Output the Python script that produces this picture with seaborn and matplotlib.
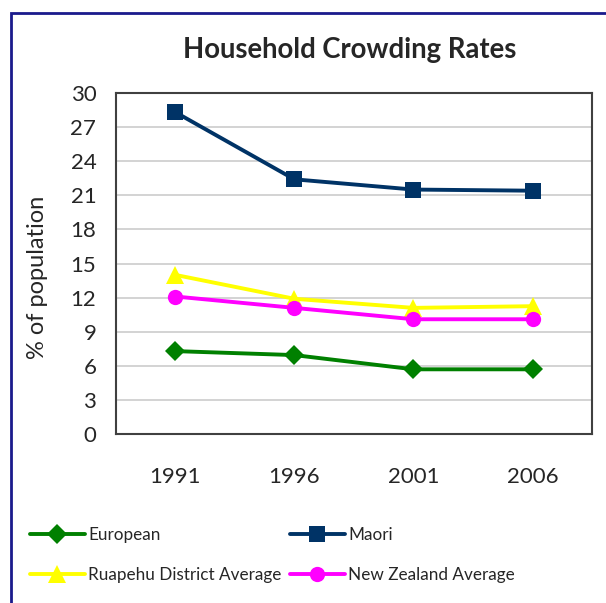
import matplotlib
matplotlib.use("Agg")
import matplotlib.pyplot as plt
from matplotlib.patches import Rectangle
import seaborn as sns
import pandas as pd

years = ["1991", "1996", "2001", "2006"]
european = [7.3, 6.95, 5.7, 5.7]
maori = [28.3, 22.4, 21.5, 21.4]
ruapehu = [14.0, 11.9, 11.1, 11.25]
nz_avg = [12.1, 11.1, 10.1, 10.1]
series_names = ["European", "Maori", "Ruapehu District Average", "New Zealand Average"]
y_ticks = [0, 3, 6, 9, 12, 15, 18, 21, 24, 27, 30]

sns.set_theme(style="white")
plt.rcParams['font.family'] = ['Lato', 'DejaVu Sans']

rows = []
for name, vals in zip(series_names, [european, maori, ruapehu, nz_avg]):
    for yr, v in zip(years, vals):
        rows.append({"Year": yr, "Value": v, "Series": name})
df = pd.DataFrame(rows)

colors = {"European": "#008000", "Maori": "#003366",
          "Ruapehu District Average": "#FFFF00", "New Zealand Average": "#FF00FF"}
markers = {"European": "D", "Maori": "s",
           "Ruapehu District Average": "^", "New Zealand Average": "o"}
msizes = {"European": 10, "Maori": 11, "Ruapehu District Average": 13, "New Zealand Average": 11}

fig = plt.figure(figsize=(6.06, 6.03), dpi=100)
ax = fig.add_axes([0.191, 0.280, 0.786, 0.566])

for name in series_names:
    sub = df[df["Series"] == name]
    sns.lineplot(data=sub, x="Year", y="Value", ax=ax, color=colors[name],
                 marker=markers[name], markersize=msizes[name], markeredgewidth=0,
                 linewidth=2.8, label=name, sort=False)

ax.set_xlim(-0.5, 3.5)
ax.set_ylim(0, 30)
ax.set_yticks(y_ticks)
ax.set_yticklabels([str(t) for t in y_ticks], fontsize=16)
ax.set_xticks(range(len(years)))
ax.set_xticklabels(years, fontsize=16)
ax.tick_params(axis='y', length=0, pad=14)
ax.tick_params(axis='x', length=0, pad=24)
ax.set_xlabel("")
ax.set_ylabel("% of population", fontsize=17)
ax.yaxis.set_label_coords(-0.142, 0.46)
for t in y_ticks[1:-1]:
    ax.axhline(t, color="#cccccc", linewidth=1.2, zorder=0)
for s in ax.spines.values():
    s.set_color("#404040")
    s.set_linewidth(1.5)
ax.get_legend().remove()

fig.text(0.577, 0.917, "Household Crowding Rates", ha="center", va="center",
         fontsize=19.8, fontweight="bold")

h, l = ax.get_legend_handles_labels()
order = [0, 2, 1, 3]
fig.legend([h[i] for i in order], [l[i] for i in order], ncol=2,
           loc="upper left", bbox_to_anchor=(0.038, 0.137), frameon=False,
           fontsize=12.3, handlelength=3.2, handletextpad=0.2, columnspacing=0.5,
           labelspacing=1.4, borderaxespad=0)

fig.patches.append(Rectangle((11/606, -0.05), 1.2, 1 - 13/603 + 0.05,
                             transform=fig.transFigure, fill=False,
                             edgecolor="#1a1a8c", linewidth=2.0))

fig.savefig("out.png", dpi=100)
